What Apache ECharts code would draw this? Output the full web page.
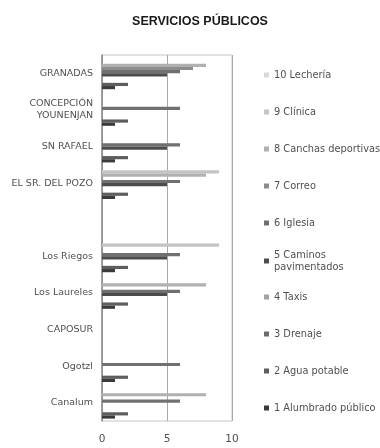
<!DOCTYPE html>
<html>
<head>
<meta charset="utf-8">
<script src="https://cdn.jsdelivr.net/npm/echarts@6/dist/echarts.min.js"></script>
<style>
  html, body { margin: 0; padding: 0; background: #fff; }
  #chart { width: 380px; height: 448px; }
</style>
</head>
<body>
<div id="chart"></div>
<script>
// Localidades, de abajo hacia arriba
const categories = ['Canalum', 'Ogotzl', 'CAPOSUR', 'Los Laureles', 'Los Riegos', '',
  'EL SR. DEL POZO', 'SN RAFAEL', 'CONCEPCIÓN\nYOUNENJAN', 'GRANADAS'];

// Servicios (valor = número del servicio cuando existe en la localidad)
const alumbrado   = [1, 1, 0, 1, 1, 0, 1, 1, 1, 1];
const agua        = [2, 2, 0, 2, 2, 0, 2, 2, 2, 2];
const drenaje     = [0, 0, 0, 0, 0, 0, 0, 0, 0, 0];
const taxis       = [0, 0, 0, 0, 0, 0, 0, 0, 0, 0];
const caminos     = [0, 0, 0, 5, 5, 0, 5, 5, 0, 5];
const iglesia     = [6, 6, 0, 6, 6, 0, 6, 6, 6, 6];
const correo      = [0, 0, 0, 0, 0, 0, 0, 0, 0, 7];
const canchas     = [8, 0, 0, 8, 0, 0, 8, 0, 0, 8];
const clinica     = [0, 0, 0, 0, 9, 0, 9, 0, 0, 0];
const lecheria    = [0, 0, 0, 0, 0, 0, 0, 0, 0, 0];

const seriesNames = ['1 Alumbrado público', '2 Agua potable', '3 Drenaje', '4 Taxis',
  '5 Caminos pavimentados', '6 Iglesia', '7 Correo', '8 Canchas deportivas', '9 Clínica', '10 Lechería'];
const seriesData = [alumbrado, agua, drenaje, taxis, caminos, iglesia, correo, canchas, clinica, lecheria];

const xTicks = [0, 5, 10];

const colors = ['#3a3a3a', '#5e5e5e', '#6c6c6c', '#a2a2a2', '#4c4c4c',
  '#707070', '#8c8c8c', '#b0b0b0', '#c4c4c4', '#d8d8d8'];

const font = 'DejaVu Sans';
const textColor = '#505050';

// ECharts apila las barras horizontales de arriba abajo en el orden de las series,
// así que se agregan de la 10 a la 1 para que el servicio 1 quede abajo.
const series = seriesNames.map((name, i) => ({
  name: name,
  type: 'bar',
  data: seriesData[i],
  itemStyle: { color: colors[i] },
  barGap: '0%',
  barCategoryGap: '13%',
  silent: true
})).reverse();

// Una leyenda por servicio, de 10 (arriba) a 1 (abajo)
const legends = seriesNames.slice().reverse().map((name, k) => ({
  data: [name],
  left: 259,
  top: name.startsWith('5 ') ? 244 : 64 + 37 * k,
  orient: 'vertical',
  icon: 'rect',
  itemWidth: 5,
  itemHeight: 5,
  selectedMode: false,
  formatter: n => n.replace(' pavimentados', '\npavimentados'),
  textStyle: { fontFamily: font, fontSize: 9.8, color: textColor, lineHeight: 12 }
}));

const chart = echarts.init(document.getElementById('chart'), null, { renderer: 'canvas' });
chart.setOption({
  animation: false,
  backgroundColor: '#ffffff',
  color: colors,
  title: {
    text: 'SERVICIOS PÚBLICOS',
    left: 195,
    textAlign: 'center',
    top: 10,
    textStyle: { fontFamily: 'Liberation Sans', fontWeight: 'bold', fontSize: 12.5, color: '#1a1a1a' }
  },
  legend: legends,
  grid: {
    left: 102, right: 148, top: 55, bottom: 27,
    show: true, borderColor: '#c4c4c4', borderWidth: 1
  },
  xAxis: {
    type: 'value',
    min: xTicks[0],
    max: xTicks[xTicks.length - 1],
    interval: xTicks[1] - xTicks[0],
    axisLine: { show: false },
    axisTick: { show: false },
    axisLabel: { fontFamily: font, fontSize: 10.5, color: textColor, margin: 13 },
    splitLine: { show: true, lineStyle: { color: '#a8a8a8', width: 1 } }
  },
  yAxis: {
    type: 'category',
    data: categories,
    axisLine: { show: true, lineStyle: { color: '#8c8c8c', width: 1.5 } },
    axisTick: { show: false },
    axisLabel: { fontFamily: font, fontSize: 9.5, color: textColor, margin: 9, lineHeight: 12, align: 'right' }
  },
  series: series
});
</script>
</body>
</html>
